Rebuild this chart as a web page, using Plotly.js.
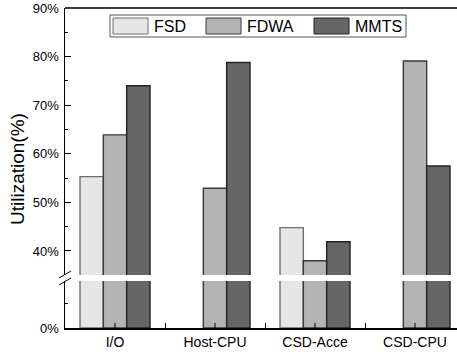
<!DOCTYPE html>
<html>
<head>
<meta charset="utf-8">
<script src="https://cdn.plot.ly/plotly-3.0.1.min.js"></script>
<style>html,body{margin:0;padding:0;background:#fff;}#chart{width:457px;height:352px;}</style>
</head>
<body>
<div id="chart"></div>
<script>
// ---- data ----
const categories = ['I/O', 'Host-CPU', 'CSD-Acce', 'CSD-CPU'];
const seriesNames = ['FSD', 'FDWA', 'MMTS'];
const fsd  = [55.3, null, 44.8, null];
const fdwa = [63.9, 52.9, 38.0, 79.1];
const mmts = [74.0, 78.8, 41.9, 57.5];
const yTitle = 'Utilization(%)';

// ---- styling ----
const fills = ['#e6e6e6', '#b4b4b5', '#666666'];
const edges = ['#6e6e6e', '#3a3a3a', '#222222'];
const W = 457, H = 352, ML = 65, MR = 0, MT = 8, MB = 24;
const PW = W - ML - MR, PH = H - MT - MB;
const px = x => (x - ML) / PW;          // pixel -> paper x
const py = y => (H - MB - y) / PH;      // pixel -> paper y
const FONT = 'Liberation Sans, Arial, sans-serif';

const series = [fsd, fdwa, mmts];
const traces = [];
series.forEach((vals, k) => {
  ['y', 'y2'].forEach(ya => {
    traces.push({
      type: 'bar', x: categories, y: vals, name: seriesNames[k],
      yaxis: ya, xaxis: 'x', showlegend: false, hoverinfo: 'skip',
      marker: {color: fills[k], line: {color: edges[k], width: 1.4}}
    });
  });
});

const shapes = [];
const annotations = [];
// top border
shapes.push({type: 'line', xref: 'paper', yref: 'paper', x0: 0, x1: 1, y0: 1, y1: 1,
  line: {color: '#000', width: 1.5}});
// center ticks on the x axis
categories.forEach((c, i) => {
  shapes.push({type: 'line', xref: 'x', yref: 'paper', x0: i, x1: i, y0: 0, y1: 5 / PH,
    line: {color: '#000', width: 1}});
});
// axis break marks
shapes.push({type: 'line', xref: 'paper', yref: 'paper', x0: px(59), x1: px(71), y0: py(278), y1: py(271),
  line: {color: '#000', width: 1}});
shapes.push({type: 'line', xref: 'paper', yref: 'paper', x0: px(59), x1: px(71), y0: py(285), y1: py(278),
  line: {color: '#000', width: 1}});
// legend box
shapes.push({type: 'rect', xref: 'paper', yref: 'paper', x0: px(110), x1: px(406), y0: py(37), y1: py(15),
  line: {color: '#555', width: 1}, fillcolor: '#fff'});
const swX = [113, 206, 314];
seriesNames.forEach((n, k) => {
  shapes.push({type: 'rect', xref: 'paper', yref: 'paper', x0: px(swX[k]), x1: px(swX[k] + 35),
    y0: py(34), y1: py(18), fillcolor: fills[k], line: {color: edges[k], width: 1}});
  annotations.push({xref: 'paper', yref: 'paper', x: px(swX[k] + 39), y: py(26), xanchor: 'left', yanchor: 'middle',
    text: n, showarrow: false, font: {family: FONT, size: 16, color: '#000'}});
});
// y title
annotations.push({xref: 'paper', yref: 'paper', x: px(17), y: py(169), xanchor: 'center', yanchor: 'middle',
  text: yTitle, textangle: -90, showarrow: false, font: {family: FONT, size: 19, color: '#000'}});

const layout = {
  width: W, height: H,
  margin: {l: ML, r: MR, t: MT, b: MB, pad: 0},
  paper_bgcolor: '#fff', plot_bgcolor: '#fff',
  font: {family: FONT, color: '#000'},
  barmode: 'group', bargap: 0.3, bargroupgap: 0,
  showlegend: false,
  xaxis: {
    type: 'category', categoryarray: categories, categoryorder: 'array',
    range: [-0.5, -0.5 + PW / 100], domain: [0, 1], anchor: 'y',
    showline: true, linecolor: '#000', linewidth: 1.5,
    ticks: 'inside', tickson: 'boundaries', ticklen: 5, tickcolor: '#000', tickwidth: 1,
    showgrid: false, zeroline: false, ticklabelstandoff: 1,
    tickfont: {family: FONT, size: 14, color: '#000'}
  },
  yaxis: {
    domain: [0, (H - MB - 281) / PH], range: [0, 9.7], anchor: 'x',
    tickvals: [0], ticktext: ['0%'],
    showline: true, linecolor: '#000', linewidth: 1.5,
    ticks: 'inside', ticklen: 6, tickcolor: '#000', tickwidth: 1,
    minor: {tickvals: [5], ticks: 'inside', ticklen: 3, tickcolor: '#000'},
    showgrid: false, zeroline: false, ticklabelstandoff: 2,
    tickfont: {family: FONT, size: 13, color: '#000'}
  },
  yaxis2: {
    domain: [(H - MB - 275) / PH, 1], range: [35.06, 90], anchor: 'x',
    dtick: 10, tick0: 0, ticksuffix: '%',
    showline: true, linecolor: '#000', linewidth: 1.5,
    ticks: 'inside', ticklen: 6, tickcolor: '#000', tickwidth: 1,
    minor: {dtick: 5, tick0: 0, ticks: 'inside', ticklen: 3, tickcolor: '#000'},
    showgrid: false, zeroline: false, ticklabelstandoff: 2,
    tickfont: {family: FONT, size: 13, color: '#000'}
  },
  shapes: shapes,
  annotations: annotations
};

Plotly.newPlot('chart', traces, layout, {displayModeBar: false, staticPlot: true});
</script>
</body>
</html>
